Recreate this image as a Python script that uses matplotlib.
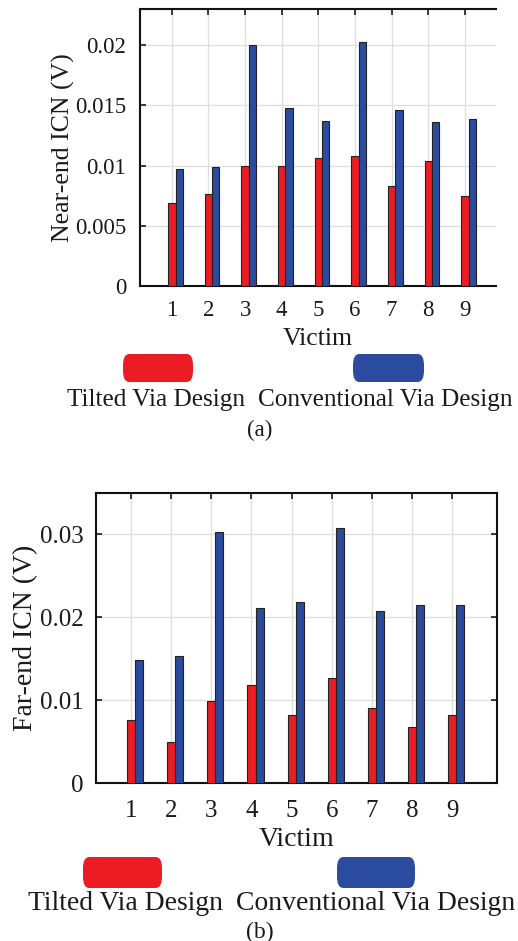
import numpy as np
import matplotlib.pyplot as plt
from matplotlib.patches import FancyBboxPatch

plt.rcParams['font.family'] = ['Liberation Serif', 'DejaVu Serif']

victims = [1, 2, 3, 4, 5, 6, 7, 8, 9]
near_tilted = [0.0069, 0.0076, 0.0100, 0.0100, 0.0106, 0.0108, 0.0083, 0.0104, 0.0075]
near_conv = [0.0097, 0.0099, 0.0200, 0.0148, 0.0137, 0.0203, 0.0146, 0.0136, 0.0139]
far_tilted = [0.0076, 0.0049, 0.0099, 0.0118, 0.0082, 0.0127, 0.0091, 0.0068, 0.0082]
far_conv = [0.0149, 0.0153, 0.0303, 0.0211, 0.0218, 0.0308, 0.0208, 0.0215, 0.0215]

RED = '#ec1c24'
BLUE = '#2a4b9e'
TXT = '#1a1a1a'

W, H = 518, 941
fig = plt.figure(figsize=(W / 100, H / 100), dpi=100)


def px_axes(l, t, r, b):
    return fig.add_axes([l / W, 1 - b / H, (r - l) / W, (b - t) / H])


def icn_panel(ax, tilted, conv, ylim, yticks, yticklabels, ylabel, xlim, right_spine,
              tick_fs, label_fs, ylpad, xlpad, xtpad, ytpad):
    x = np.array(victims)
    ax.bar(x, tilted, width=0.2, color=RED, edgecolor='#222222', linewidth=0.8, zorder=3)
    ax.bar(x + 0.2, conv, width=0.2, color=BLUE, edgecolor='#222222', linewidth=0.8, zorder=3)
    ax.set_xlim(*xlim)
    ax.set_ylim(*ylim)
    ax.set_xticks(victims)
    ax.set_yticks(yticks)
    ax.set_yticklabels(yticklabels)
    ax.grid(True, color='#dedede', linewidth=0.9, zorder=0)
    ax.set_axisbelow(True)
    ax.tick_params(direction='in', length=4, width=1.2, top=True, right=right_spine,
                   labelsize=tick_fs, colors=TXT)
    ax.tick_params(axis='x', pad=xtpad)
    ax.tick_params(axis='y', pad=ytpad)
    for s in ax.spines.values():
        s.set_linewidth(1.5)
        s.set_color('#111111')
    ax.spines['right'].set_visible(right_spine)
    ax.set_xlabel('Victim', fontsize=label_fs, color=TXT, labelpad=xlpad)
    ax.set_ylabel(ylabel, fontsize=label_fs, color=TXT, labelpad=ylpad)


ax1 = px_axes(140, 9, 496, 286)
icn_panel(ax1, near_tilted, near_conv, (0, 0.023),
          [0, 0.005, 0.01, 0.015, 0.02], ['0', '0.005', '0.01', '0.015', '0.02'],
          'Near-end ICN (V)', (0.13, 9.85), False,
          tick_fs=16.5, label_fs=18.5, ylpad=0, xlpad=5, xtpad=10, ytpad=10)

ax2 = px_axes(96, 493, 497, 783)
icn_panel(ax2, far_tilted, far_conv, (0, 0.035),
          [0, 0.01, 0.02, 0.03], ['0', '0.01', '0.02', '0.03'],
          'Far-end ICN (V)', (0.13, 10.11), True,
          tick_fs=18, label_fs=20, ylpad=1, xlpad=4, xtpad=12, ytpad=9)


def legend_box(l, t, r, b, color):
    fig.patches.append(FancyBboxPatch((l / W, 1 - b / H), (r - l) / W, (b - t) / H,
                                      boxstyle='round,pad=0,rounding_size=0.012',
                                      transform=fig.transFigure, facecolor=color,
                                      edgecolor='none'))


# legend (a)
legend_box(123, 354, 193, 382, RED)
legend_box(353, 354, 424, 382, BLUE)
fig.text(156 / W, 1 - 400 / H, 'Tilted Via Design', ha='center', va='center', fontsize=18.2, color=TXT)
fig.text(385 / W, 1 - 400 / H, 'Conventional Via Design', ha='center', va='center', fontsize=18.2, color=TXT)
fig.text(260 / W, 1 - 430 / H, '(a)', ha='center', va='center', fontsize=16.5, color=TXT)

# legend (b)
legend_box(83, 857, 162, 888, RED)
legend_box(337, 857, 415, 888, BLUE)
fig.text(125 / W, 1 - 904 / H, 'Tilted Via Design', ha='center', va='center', fontsize=19.9, color=TXT)
fig.text(376 / W, 1 - 904 / H, 'Conventional Via Design', ha='center', va='center', fontsize=19.9, color=TXT)
fig.text(260 / W, 1 - 932 / H, '(b)', ha='center', va='center', fontsize=17, color=TXT)

fig.savefig('out.png', dpi=100)
